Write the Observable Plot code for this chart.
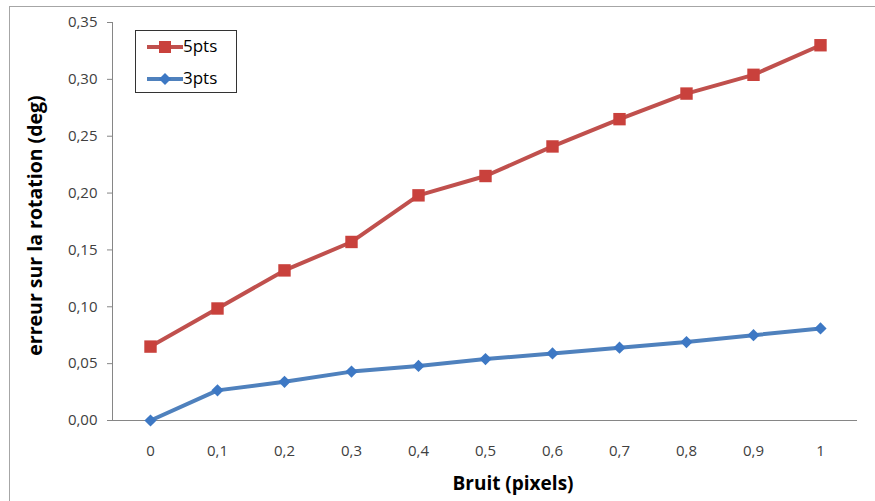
<!DOCTYPE html>
<html>
<head>
<meta charset="utf-8">
<script src="https://cdn.jsdelivr.net/npm/d3@7"></script>
<script src="https://cdn.jsdelivr.net/npm/@observablehq/plot@0.6"></script>
<style>
  html, body { margin: 0; padding: 0; background: #fff; }
  #wrap { position: relative; width: 875px; height: 501px; overflow: hidden; font-family: "Open Sans", "Noto Sans", sans-serif; }
  #border { position: absolute; left: 9px; top: 6px; width: 880px; height: 510px; border: 1px solid #a6a6a6; box-sizing: border-box; }
  #legend { position: absolute; left: 135px; top: 30px; width: 102px; height: 63px; border: 1px solid #333; box-sizing: border-box; background: #fff; }
  .item { position: absolute; left: 0; height: 20px; width: 100px; }
  .item svg { position: absolute; left: 10px; top: 0; }
  .item span { position: absolute; left: 47px; top: -3px; font-size: 17px; color: #000; }
</style>
</head>
<body>
<div id="wrap">
  <div id="border"></div>
  <div id="chart"></div>
  <div id="legend">
    <div class="item" style="top:6px"><svg width="38" height="20"><line x1="1" y1="10" x2="37" y2="10" stroke="#c0504d" stroke-width="4"/><rect x="13" y="4" width="12" height="12" fill="#c9413c"/></svg><span>5pts</span></div>
    <div class="item" style="top:38px"><svg width="38" height="20"><line x1="1" y1="10" x2="37" y2="10" stroke="#4f81bd" stroke-width="4"/><path d="M19 4 L25 10 L19 16 L13 10 Z" fill="#3d78c4"/></svg><span>3pts</span></div>
  </div>
</div>
<script>
const categories = ["0","0,1","0,2","0,3","0,4","0,5","0,6","0,7","0,8","0,9","1"];
const pts5 = [0.065,0.0985,0.132,0.157,0.198,0.215,0.241,0.265,0.2875,0.304,0.33];
const pts3 = [0.0,0.0265,0.034,0.043,0.048,0.054,0.059,0.064,0.069,0.075,0.081];
const yTicks = [0,0.05,0.10,0.15,0.20,0.25,0.30,0.35];

const d5 = categories.map((c,i)=>({x:c, y:pts5[i]}));
const d3s = categories.map((c,i)=>({x:c, y:pts3[i]}));
const fmt = v => v.toFixed(2).replace(".", ",");

const chart = Plot.plot({
  width: 875,
  height: 501,
  marginLeft: 112,
  marginRight: 18,
  marginTop: 22,
  marginBottom: 81,
  style: {fontFamily: '"Open Sans", "Noto Sans", sans-serif', fontSize: "15px", background: "transparent", color: "#404040"},
  x: {type: "point", domain: categories, padding: 0.5},
  y: {domain: [0, 0.35]},
  marks: [
    Plot.axisY({ticks: yTicks, tickFormat: fmt, tickSize: 5, tickPadding: 10, label: null, stroke: "#868686", fontSize: 15, fill: "#404040"}),
    Plot.axisX({tickSize: 0, tickPadding: 25, label: null, fontSize: 15, fill: "#404040"}),
    Plot.frame({anchor: "left", stroke: "#868686"}),
    Plot.ruleY([0], {stroke: "#868686"}),
    Plot.line(d5, {x: "x", y: "y", stroke: "#c0504d", strokeWidth: 4}),
    Plot.dot(d5, {x: "x", y: "y", symbol: "square", r: 7, fill: "#c9413c", stroke: null}),
    Plot.line(d3s, {x: "x", y: "y", stroke: "#4f81bd", strokeWidth: 4}),
    Plot.dot(d3s, {x: "x", y: "y", symbol: "diamond2", r: 5.5, fill: "#3d78c4", stroke: null}),
    Plot.text(["erreur sur la rotation (deg)"], {frameAnchor: "left", textAnchor: "middle", dx: -77, dy: 4, rotate: -90, fontWeight: "bold", fontSize: 19.5, fill: "#000"}),
    Plot.text(["Bruit (pixels)"], {frameAnchor: "bottom", dx: 28, dy: 69, fontWeight: "bold", fontSize: 19, fill: "#000"})
  ]
});
document.getElementById("chart").appendChild(chart);
</script>
</body>
</html>
